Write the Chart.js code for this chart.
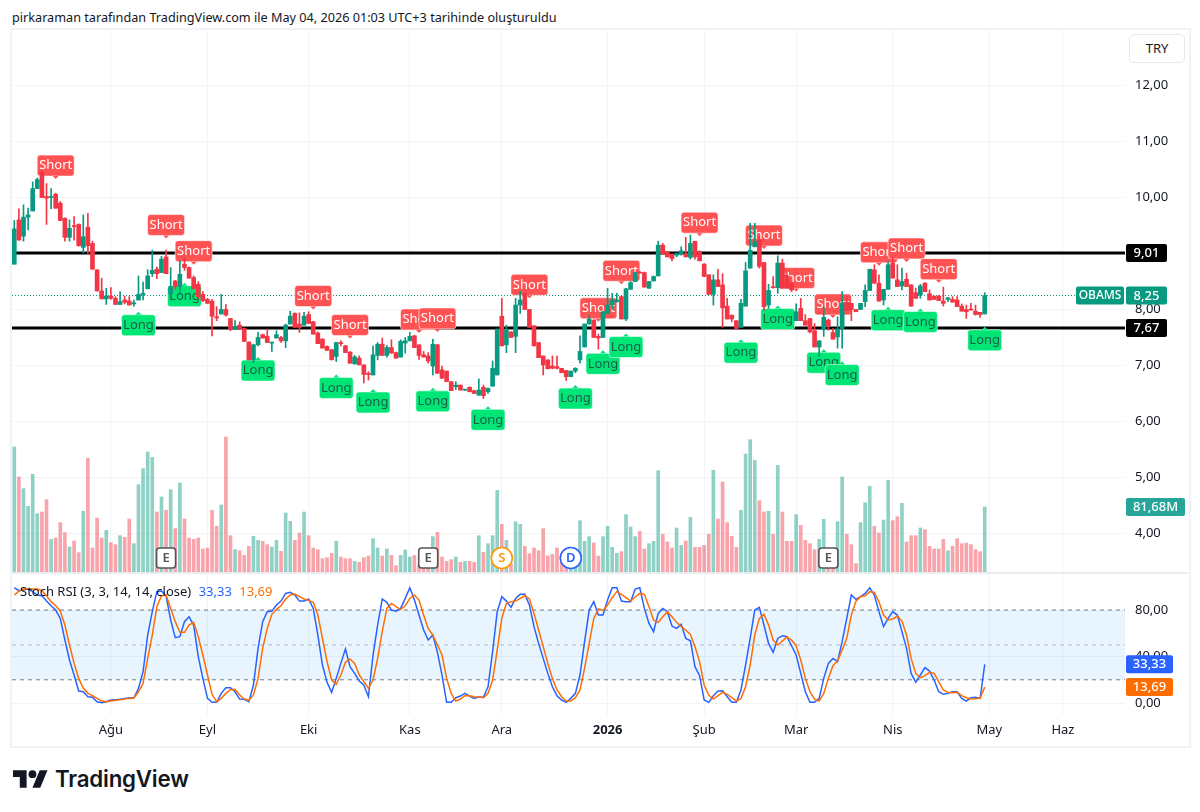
<!DOCTYPE html>
<html lang="tr">
<head>
<meta charset="utf-8">
<title>OBAMS</title>
<script src="https://cdn.jsdelivr.net/npm/chart.js@4/dist/chart.umd.min.js"></script>
<style>
  html, body { margin: 0; background: #fff; }
  body { position: relative; width: 1200px; height: 812px; overflow: hidden; font-family: "Noto Sans", sans-serif; color: #131722; }
  canvas { position: absolute; display: block; }
  #priceCanvas { left: 12px; top: 30px; }
  #stochCanvas { left: 12px; top: 574px; }
  #frame { position: absolute; left: 10px; top: 28px; width: 1177px; height: 716px; border: 2px solid #f0f2f6; }
  #divider { position: absolute; left: 12px; top: 572px; width: 1176px; height: 2px; background: #e9ebf1; }
  #caption { position: absolute; left: 12px; top: 9px; font-size: 12.66px; line-height: 17px; white-space: nowrap; }
  #currency { position: absolute; left: 1129px; top: 34px; width: 54px; height: 27px; line-height: 27px; text-align: center; font-size: 13px; border: 1px solid #e6e8ee; border-radius: 5px; background: #fff; }
  #stochLegend { position: absolute; left: 20px; top: 582px; font-size: 13px; line-height: 18px; white-space: nowrap; }
  #stochLegend b { font-weight: 400; margin-left: 4px; }
  #logo { position: absolute; left: 13px; top: 765px; display: flex; align-items: center; }
  #logo span { font: 600 22.3px Inter, sans-serif; margin-left: 7px; letter-spacing: -0.2px; }
</style>
</head>
<body>
<div id="frame"></div>
<canvas id="priceCanvas" width="1176" height="543"></canvas>
<canvas id="stochCanvas" width="1176" height="171"></canvas>
<div id="divider"></div>
<div id="caption">pirkaraman tarafından TradingView.com ile May 04, 2026 01:03 UTC+3 tarihinde oluşturuldu</div>
<div id="currency">TRY</div>
<div id="stochLegend">Stoch RSI (3, 3, 14, 14, close) <b style="color:#2962ff">33,33</b> <b style="color:#ff6d00">13,69</b></div>
<div id="logo">
  <svg width="35" height="26" viewBox="0 0 36 26"><path fill="#131722" d="M14 22H7V11H0V4h14v18zM28 22h-8l7.5-18h8L28 22z"/><circle fill="#131722" cx="20" cy="8" r="4"/></svg>
  <span>TradingView</span>
</div>

<script>
// ================== DATA ==================
const openVals = [
  8.81,9.60,9.31,9.65,9.76,10.16,10.46,10.02,10.00,10.06,
  9.90,9.63,9.29,9.49,9.52,9.11,9.47,9.18,8.71,8.33,
  8.19,8.24,8.20,8.09,8.17,8.15,8.10,8.17,8.27,8.37,
  8.64,8.72,8.66,8.94,8.28,8.51,8.41,8.81,8.75,8.57,
  8.45,8.27,8.18,8.15,7.87,7.92,8.00,7.84,7.65,7.72,
  7.66,7.42,7.10,7.37,7.55,7.52,7.40,7.49,7.50,7.44,
  7.74,7.93,7.74,7.72,7.91,7.78,7.58,7.47,7.34,7.28,
  7.16,7.40,7.35,7.24,7.03,7.13,7.01,6.86,6.83,7.18,
  7.38,7.18,7.32,7.23,7.15,7.40,7.44,7.53,7.37,7.19,
  7.17,6.99,7.37,6.92,6.90,6.71,6.62,6.65,6.56,6.61,
  6.55,6.47,6.61,6.53,6.63,6.83,7.88,7.37,7.60,7.52,
  8.08,8.29,8.00,7.71,7.41,7.17,7.10,6.99,6.98,6.95,
  6.91,6.80,6.90,7.10,7.33,7.74,7.81,7.52,7.50,7.93,
  8.08,8.14,8.23,7.83,8.36,8.50,8.66,8.66,8.38,8.51,
  8.60,9.15,9.03,8.99,8.97,9.00,9.00,8.93,9.22,9.03,
  8.81,8.62,8.27,8.53,8.44,8.06,7.90,7.80,7.68,8.06,
  8.74,9.12,9.24,8.84,8.08,8.40,8.39,8.83,8.60,8.47,
  7.80,8.02,7.80,7.84,7.62,7.33,7.64,7.81,7.59,7.51,
  7.66,8.13,8.11,8.00,8.00,8.14,8.34,8.71,8.47,8.17,
  8.36,8.83,8.53,8.42,8.54,8.44,8.30,8.26,8.47,8.28,
  8.24,8.24,8.15,8.18,8.18,8.17,8.06,8.00,8.00,7.97,
  7.95,7.92
];
const highVals = [
  9.59,9.80,9.87,9.81,10.28,10.35,10.46,10.25,10.16,10.08,
  9.93,9.64,9.60,9.66,9.53,9.69,9.72,9.22,8.71,8.56,
  8.38,8.39,8.23,8.32,8.24,8.23,8.17,8.60,8.49,8.71,
  9.06,8.76,8.95,9.06,8.75,8.52,8.87,8.94,8.76,8.60,
  8.50,8.32,8.20,8.18,8.05,8.27,8.09,7.84,7.80,7.78,
  7.67,7.42,7.38,7.59,7.56,7.65,7.42,7.62,7.52,7.74,
  7.97,7.94,7.94,7.95,7.96,7.79,7.60,7.48,7.35,7.29,
  7.41,7.44,7.36,7.25,7.18,7.17,7.01,6.89,7.35,7.41,
  7.49,7.36,7.46,7.24,7.46,7.50,7.59,7.54,7.37,7.25,
  7.23,7.47,7.38,6.99,6.90,6.71,6.71,6.65,6.57,6.62,
  6.56,6.76,6.65,6.60,7.08,7.65,8.20,7.72,7.60,8.20,
  8.33,8.30,8.00,7.71,7.41,7.17,7.10,7.17,7.17,6.95,
  6.91,6.90,6.96,7.53,7.74,7.90,7.82,7.56,7.96,8.38,
  8.29,8.29,8.24,8.38,8.50,8.66,8.68,8.67,8.50,8.60,
  9.22,9.18,9.03,8.99,9.01,9.12,9.29,9.33,9.22,9.05,
  8.82,8.62,8.62,8.72,8.64,8.20,7.90,7.80,8.18,8.84,
  9.54,9.54,9.30,8.84,8.45,8.59,8.96,8.90,8.61,8.48,
  8.10,8.20,7.91,7.84,7.75,7.44,8.05,7.83,7.66,7.87,
  8.32,8.23,8.11,8.00,8.11,8.44,8.72,8.80,8.62,8.36,
  8.85,8.94,8.80,8.74,8.65,8.44,8.38,8.45,8.48,8.35,
  8.24,8.25,8.40,8.21,8.23,8.23,8.10,8.08,8.11,8.08,
  7.95,8.30
];
const lowVals = [
  8.81,9.24,9.22,9.42,9.76,10.16,10.00,9.52,9.80,9.81,
  9.59,9.22,9.22,9.24,9.13,9.01,9.00,8.72,8.33,8.19,
  8.09,8.18,8.09,8.09,8.10,8.08,8.06,8.17,8.17,8.37,
  8.59,8.55,8.66,8.64,8.28,8.36,8.30,8.70,8.56,8.37,
  8.20,8.14,8.11,7.53,7.80,7.92,7.88,7.62,7.64,7.65,
  7.43,7.10,7.05,7.35,7.49,7.41,7.25,7.49,7.41,7.32,
  7.74,7.68,7.59,7.72,7.75,7.56,7.39,7.31,7.27,7.10,
  7.07,7.35,7.23,7.04,7.02,7.01,6.69,6.74,6.83,7.10,
  7.18,7.15,7.22,7.13,7.15,7.22,7.44,7.32,7.11,7.15,
  7.04,6.83,6.86,6.77,6.71,6.55,6.57,6.56,6.55,6.53,
  6.50,6.47,6.41,6.50,6.63,6.83,7.35,7.23,7.50,7.23,
  7.93,8.00,7.68,7.35,7.14,6.83,6.94,6.94,6.94,6.87,
  6.73,6.80,6.87,7.04,7.33,7.74,7.50,7.29,7.50,7.92,
  8.00,8.13,7.83,7.80,8.36,8.50,8.65,8.40,8.38,8.51,
  8.60,8.99,8.94,8.87,8.94,8.97,8.94,8.90,8.90,8.87,
  8.59,8.27,8.08,8.41,7.68,7.83,7.78,7.66,7.68,8.06,
  8.74,9.12,8.74,7.99,8.02,8.38,8.29,8.38,8.38,8.32,
  7.80,7.80,7.72,7.58,7.33,7.16,7.52,7.63,7.47,7.31,
  7.31,7.98,7.80,7.96,8.00,8.05,8.34,8.47,8.15,8.08,
  8.36,8.56,8.41,8.35,8.41,8.06,8.20,8.20,8.32,8.17,
  8.18,8.16,8.06,8.14,8.13,8.05,7.97,7.84,7.99,7.90,
  7.86,7.92
];
const closeVals = [
  9.44,9.24,9.65,9.69,10.16,10.32,10.00,9.99,10.02,9.81,
  9.59,9.29,9.45,9.48,9.14,9.30,9.14,8.72,8.33,8.19,
  8.24,8.20,8.09,8.14,8.13,8.08,8.12,8.27,8.29,8.60,
  8.70,8.64,8.90,8.64,8.41,8.41,8.63,8.75,8.56,8.37,
  8.23,8.16,8.11,7.88,7.85,8.00,7.90,7.65,7.69,7.65,
  7.43,7.10,7.37,7.50,7.49,7.41,7.41,7.55,7.44,7.72,
  7.88,7.68,7.68,7.88,7.75,7.56,7.39,7.31,7.27,7.10,
  7.41,7.39,7.23,7.04,7.15,7.01,6.84,6.84,7.19,7.38,
  7.18,7.32,7.22,7.13,7.43,7.44,7.52,7.32,7.18,7.15,
  7.08,7.38,6.86,6.77,6.71,6.55,6.65,6.56,6.57,6.53,
  6.50,6.56,6.46,6.59,6.95,7.65,7.35,7.63,7.50,8.08,
  8.17,8.00,7.68,7.35,7.14,7.01,6.94,6.95,6.95,6.87,
  6.80,6.90,6.95,7.25,7.74,7.83,7.50,7.49,7.96,8.08,
  8.16,8.17,7.83,8.37,8.48,8.66,8.65,8.40,8.50,8.59,
  9.15,8.99,8.94,8.91,9.00,9.05,8.94,9.18,8.94,8.87,
  8.59,8.27,8.53,8.41,8.03,7.83,7.83,7.66,8.11,8.69,
  9.06,9.21,8.77,8.05,8.34,8.39,8.83,8.38,8.38,8.35,
  7.96,7.80,7.72,7.60,7.33,7.44,7.86,7.71,7.47,7.65,
  8.11,7.98,8.00,7.96,8.11,8.34,8.72,8.47,8.15,8.36,
  8.80,8.56,8.41,8.50,8.41,8.06,8.20,8.42,8.32,8.17,
  8.18,8.16,8.11,8.21,8.13,8.05,7.97,7.96,7.99,7.91,
  7.91,8.25
];
// volume in millions
const volumeVals = [
  155.9,118.8,104.4,82.5,122.1,73.4,75.5,90.8,41.7,43.3,
  62.3,49.9,32.2,39.6,25.2,76.3,141.9,30.9,68.1,43.3,
  52.8,37.5,35.1,46.2,44.1,66.8,36.3,109.3,129.1,149.7,
  143.1,75.5,94.1,77.6,103.1,54.9,111.4,66.8,43.3,41.7,
  43.3,29.7,30.9,77.6,57.8,84.2,168.3,46.2,28.9,27.6,
  21.9,33.0,45.4,40.4,39.2,35.1,32.2,40.4,26.8,74.3,
  63.9,40.4,49.5,75.5,46.2,30.9,28.9,17.7,19.0,24.3,
  39.2,19.8,17.7,17.7,14.4,13.2,19.0,21.0,42.5,30.9,
  21.0,29.7,21.9,9.1,21.9,28.5,19.8,21.9,9.5,7.4,
  9.5,45.0,50.3,19.8,14.4,16.5,19.8,13.2,14.4,14.4,
  13.2,46.2,25.6,36.3,46.2,102.3,60.2,40.4,11.6,63.5,
  60.2,33.0,23.9,30.9,27.6,54.9,21.0,23.1,30.9,19.8,
  11.6,13.6,13.6,64.8,39.2,45.0,37.1,21.0,45.0,57.8,
  31.8,24.3,26.4,72.2,56.9,45.0,51.6,29.7,36.3,39.2,
  126.6,47.9,38.4,30.9,55.7,34.2,39.6,68.9,31.8,31.8,
  34.2,47.9,127.1,66.8,112.6,62.3,45.4,31.8,77.6,147.3,
  165.0,139.4,89.5,75.5,76.3,47.9,133.2,75.5,39.2,39.2,
  72.2,59.0,40.4,36.3,28.9,41.7,66.4,11.6,11.6,63.5,
  118.8,47.9,35.1,11.6,62.3,87.0,107.3,57.8,49.5,65.6,
  114.7,64.8,69.7,86.2,38.4,46.2,46.2,55.7,53.6,33.0,
  29.7,29.7,41.7,27.6,33.0,42.5,36.3,37.1,35.1,28.9,
  26.4,81.68
];
const stochK = [
  99.2,96.6,97.2,98.1,95.8,92.9,92.3,87.7,83.7,80.0,
  72.8,54.2,37.0,24.1,10.3,9.7,5.4,4.9,1.1,0.3,
  1.1,2.6,2.9,3.2,4.0,4.6,4.3,12.6,27.0,58.5,
  78.6,95.8,96.3,92.3,71.4,56.2,57.1,70.0,74.3,67.1,
  39.9,21.2,4.0,0.6,0.6,8.3,13.2,13.2,9.7,3.4,
  3.2,1.1,15.5,47.0,70.0,78.6,79.1,84.3,87.7,94.3,
  95.2,92.9,87.7,87.7,89.5,81.4,58.5,32.7,17.8,9.2,
  21.2,34.1,46.5,31.3,25.5,18.9,15.5,5.4,41.3,67.1,
  89.5,86.6,80.0,79.1,81.4,90.0,99.2,88.6,75.7,62.8,
  54.2,58.5,43.6,24.1,0.6,0.6,4.6,6.0,8.3,6.0,
  4.0,5.2,4.9,14.0,44.2,78.6,91.5,87.7,82.3,90.0,
  93.5,93.5,84.3,65.7,51.3,38.4,25.5,14.0,6.3,2.6,
  0.6,4.0,8.3,24.1,52.8,80.0,87.2,75.7,75.7,88.6,
  99.2,99.2,87.7,87.2,87.2,98.1,99.2,81.4,68.5,61.4,
  77.1,81.4,78.6,66.2,64.2,67.7,55.6,53.6,31.3,23.5,
  2.6,0.6,6.3,10.3,10.6,5.4,0.6,0.6,11.2,32.7,
  55.6,80.0,82.3,67.1,51.3,43.6,55.6,57.9,57.1,49.3,
  41.3,25.5,9.7,0.6,0.6,4.0,21.2,34.1,38.4,35.6,
  52.8,72.8,92.9,89.2,91.5,94.3,99.2,92.9,78.6,65.7,
  72.8,78.6,75.7,61.4,47.0,25.5,17.8,24.1,30.4,27.5,
  19.8,9.7,7.5,8.3,9.7,9.7,4.0,1.7,4.6,4.9,
  4.0,33.33
];
const stochD = [
  92.9,96.3,98.1,98.1,98.1,98.1,96.6,92.3,87.2,83.7,
  79.1,67.1,49.9,34.1,21.2,12.6,8.3,6.3,4.0,1.7,
  1.1,1.7,2.3,2.9,3.4,4.0,4.3,9.7,16.9,38.4,
  58.5,82.9,92.3,92.9,81.4,70.0,60.8,60.8,67.1,69.4,
  57.1,41.3,24.1,7.5,1.1,4.0,8.3,11.5,11.8,6.9,
  3.4,2.3,6.9,21.2,47.0,64.2,76.3,80.6,83.7,89.5,
  92.9,93.8,91.5,89.5,88.3,86.6,75.7,55.6,35.6,19.8,
  16.1,24.1,35.0,37.9,34.1,24.1,18.4,12.6,19.8,38.4,
  61.4,81.4,85.7,82.9,80.6,83.7,90.0,92.9,88.6,75.7,
  64.2,58.5,49.9,41.3,21.2,8.3,1.7,3.4,6.3,6.3,
  5.4,5.2,4.6,8.3,19.8,45.6,72.8,85.7,87.2,87.7,
  90.0,92.3,89.5,77.1,62.8,48.5,34.1,21.2,11.2,5.4,
  1.7,1.7,4.6,11.2,29.8,51.3,72.8,80.9,79.7,84.3,
  90.6,95.8,93.5,90.6,87.7,91.2,94.3,93.5,82.9,71.4,
  69.4,74.3,78.6,74.3,69.4,65.7,62.8,59.1,48.5,35.6,
  15.5,6.9,3.4,6.3,9.2,7.5,4.6,1.7,4.0,14.0,
  32.7,58.5,72.8,76.3,67.1,54.2,49.9,53.3,56.8,54.2,
  49.3,37.0,21.2,9.7,3.4,1.7,8.3,21.2,32.1,36.1,
  45.6,55.6,75.7,87.7,91.5,92.3,95.8,95.2,87.2,75.7,
  71.4,72.3,74.8,70.5,58.5,38.4,25.5,21.8,23.5,26.4,
  25.5,18.4,11.2,9.2,8.9,9.2,6.3,4.6,3.4,3.7,
  4.3,13.69
];

// horizontal levels and signal labels (bar index, price of the tip)
const levelLines = [9.01, 7.67];
const shortIdx   = [9, 33, 39, 65, 73, 88, 92, 112, 127, 132, 149, 163, 170, 178, 188, 194, 201];
const shortPrice = [10.33, 9.27, 8.80, 8.00, 7.48, 7.58, 7.60, 8.20, 7.78, 8.45, 9.31, 9.08, 8.32, 7.85, 8.78, 8.85, 8.48];
const longIdx    = [27, 37, 53, 70, 78, 91, 103, 122, 128, 133, 158, 166, 176, 180, 190, 197, 211];
const longPrice  = [7.96, 8.48, 7.15, 6.84, 6.58, 6.60, 6.27, 6.65, 7.27, 7.57, 7.47, 8.07, 7.29, 7.07, 8.05, 8.02, 7.69];

// earnings / split / dividend badges along the bottom of the price pane
const eventIdx  = [33, 90, 106, 121, 177];
const eventText = ["E", "E", "S", "D", "E"];

const monthIdx    = [21, 42, 64, 86, 106, 129, 150, 170, 191, 212, 228];
const monthLabels = ["Ağu", "Eyl", "Eki", "Kas", "Ara", "2026", "Şub", "Mar", "Nis", "May", "Haz"];
const priceTicks  = [4, 5, 6, 7, 8, 9, 10, 11, 12];
const stochTicks  = [0, 40, 80];
const stochBands  = [80, 50, 20];

// room for 242 bars, the last 30 are empty
const barLabels = Array.from({ length: 242 }, (_, i) => String(i));

// ================== HELPERS ==================
const UP = "#089981", DOWN = "#f23645";
const FONT = '"Noto Sans", sans-serif';
const fmt = (v) => v.toFixed(2).replace(".", ",");
const isUp = (i) => closeVals[i] >= openVals[i];

// the axis keeps no spare room for its end labels, the panes run edge to edge
function fitRightAxis(s) {
  s.width = 63;
  s.paddingTop = 0;
  s.paddingBottom = 0;
}
function fitTimeAxis(height) {
  return (s) => {
    s.height = height;
    s.paddingLeft = 0;
    s.paddingRight = 0;
  };
}

function mkChart(id, config) {
  config.options = Object.assign({
    responsive: false,
    animation: false,
    events: [],
    layout: { padding: 0 },
    plugins: { legend: { display: false }, tooltip: { enabled: false } }
  }, config.options || {});
  return new Chart(document.getElementById(id), config);
}

function roundBox(ctx, x, y, w, h, r, fill, stroke) {
  ctx.beginPath();
  ctx.roundRect(x, y, w, h, r);
  ctx.fillStyle = fill;
  ctx.fill();
  if (stroke) { ctx.strokeStyle = stroke; ctx.stroke(); }
}

function centerText(ctx, text, x, y, color, font) {
  ctx.font = font;
  ctx.fillStyle = color;
  ctx.textAlign = "center";
  ctx.textBaseline = "middle";
  ctx.fillText(text, x, y);
}

// value tag on the axis, boxes are pinned to the plot's right edge
function axisTag(chart, y, dx, w, bg, text, size = 13) {
  const { ctx, chartArea } = chart;
  const x = chartArea.right + dx;
  roundBox(ctx, x, y - 9, w, 18, 2, bg);
  centerText(ctx, text, x + w / 2, y + 0.5, "#fff", `500 ${size}px ${FONT}`);
}

function signalLabel(ctx, x, tipY, isShort) {
  const w = isShort ? 37 : 34, h = 21, gap = 3;
  const top = isShort ? tipY - gap - h : tipY + gap;
  const bg = isShort ? "#ff5252" : "#00e676";
  ctx.save();
  ctx.lineWidth = 1;
  roundBox(ctx, x - w / 2, top, w, h, 3, bg, "rgba(255,255,255,.55)");
  ctx.beginPath();
  ctx.moveTo(x - 3, isShort ? top + h : top);
  ctx.lineTo(x, tipY);
  ctx.lineTo(x + 3, isShort ? top + h : top);
  ctx.closePath();
  ctx.fillStyle = bg;
  ctx.fill();
  centerText(ctx, isShort ? "Short" : "Long", x, top + h / 2, isShort ? "#fff" : "#1f5c49", `13px ${FONT}`);
  ctx.restore();
}

// ================== PRICE PANE ==================
const priceOverlay = {
  id: "priceOverlay",
  // level lines and signal labels sit underneath the candles
  beforeDatasetsDraw(chart) {
    const { ctx, chartArea, scales } = chart;
    ctx.save();
    const lastY = scales.y.getPixelForValue(closeVals.at(-1));
    ctx.strokeStyle = UP;
    ctx.lineWidth = 1;
    ctx.setLineDash([1, 2]);
    ctx.beginPath();
    ctx.moveTo(chartArea.left, lastY);
    ctx.lineTo(chartArea.right, lastY);
    ctx.stroke();
    ctx.setLineDash([]);
    ctx.strokeStyle = "#000";
    ctx.lineWidth = 3;
    levelLines.forEach(v => {
      const y = scales.y.getPixelForValue(v);
      ctx.beginPath();
      ctx.moveTo(chartArea.left, y);
      ctx.lineTo(chartArea.right, y);
      ctx.stroke();
    });
    shortIdx.forEach((b, n) => signalLabel(ctx, scales.x.getPixelForValue(b), scales.y.getPixelForValue(shortPrice[n]), true));
    longIdx.forEach((b, n) => signalLabel(ctx, scales.x.getPixelForValue(b), scales.y.getPixelForValue(longPrice[n]), false));
    ctx.restore();
  },
  afterDraw(chart) {
    const { ctx, chartArea, scales } = chart;
    ctx.save();
    eventIdx.forEach((b, n) => {
      const x = scales.x.getPixelForValue(b), y = chartArea.bottom - 15;
      const t = eventText[n];
      ctx.lineWidth = 1.6;
      if (t === "E") {
        roundBox(ctx, x - 9.5, y - 10, 19, 20, 3, "#fff", "#555");
        centerText(ctx, t, x, y + 0.5, "#555", `600 13px ${FONT}`);
      } else {
        const c = t === "S" ? "#ff9800" : "#2962ff";
        ctx.beginPath();
        ctx.arc(x, y, 10.5, 0, Math.PI * 2);
        ctx.fillStyle = "#fff";
        ctx.fill();
        ctx.strokeStyle = c;
        ctx.stroke();
        centerText(ctx, t, x, y + 0.5, c, `600 13px ${FONT}`);
      }
    });
    const lastClose = closeVals.at(-1);
    levelLines.forEach(v => axisTag(chart, scales.y.getPixelForValue(v), 1, 41, "#000", fmt(v)));
    axisTag(chart, scales.y.getPixelForValue(lastClose), -49, 48, UP, "OBAMS", 12);
    axisTag(chart, scales.y.getPixelForValue(lastClose), 1, 41, UP, fmt(lastClose));
    axisTag(chart, scales.vol.getPixelForValue(volumeVals.at(-1)), 1, 59, "#26a69a", fmt(volumeVals.at(-1)) + "M");
    ctx.restore();
  }
};

mkChart("priceCanvas", {
  type: "bar",
  plugins: [priceOverlay],
  data: {
    labels: barLabels,
    datasets: [
      {
        data: openVals.map((o, i) => [o, closeVals[i]]),
        backgroundColor: openVals.map((_, i) => isUp(i) ? UP : DOWN),
        barThickness: 4, minBarLength: 1, yAxisID: "y", order: 1
      },
      {
        data: lowVals.map((l, i) => [l, highVals[i]]),
        backgroundColor: lowVals.map((_, i) => isUp(i) ? UP : DOWN),
        barThickness: 1, yAxisID: "y", order: 2
      },
      {
        data: volumeVals,
        backgroundColor: volumeVals.map((_, i) => isUp(i) ? "rgba(8,153,129,.45)" : "rgba(242,54,69,.45)"),
        barThickness: 3, yAxisID: "vol", order: 3
      }
    ]
  },
  options: {
    datasets: { bar: { grouped: false } },
    scales: {
      x: {
        offset: true,
        afterBuildTicks: (s) => { s.ticks = monthIdx.map(value => ({ value })); },
        afterFit: fitTimeAxis(0),
        grid: { color: "#f3f4f7", offset: false, drawTicks: false },
        border: { display: false },
        ticks: { display: false, autoSkip: false }
      },
      y: {
        position: "right",
        min: 3.292, max: 12.994,
        afterBuildTicks: (s) => { s.ticks = priceTicks.map(value => ({ value })); },
        afterFit: fitRightAxis,
        grid: { color: "#f3f4f7", drawTicks: false },
        border: { display: false },
        ticks: { padding: 10, color: "#131722", font: { family: FONT, size: 13 }, callback: (v) => fmt(v) }
      },
      vol: { display: false, position: "right", min: 0, max: 672 }
    }
  }
});

// ================== STOCH RSI PANE ==================
const stochOverlay = {
  id: "stochOverlay",
  beforeDatasetsDraw(chart) {
    const { ctx, chartArea, scales } = chart;
    const y = scales.y;
    ctx.save();
    ctx.fillStyle = "rgba(33,150,243,.1)";
    ctx.fillRect(chartArea.left, y.getPixelForValue(stochBands[0]), chartArea.width, y.getPixelForValue(stochBands[2]) - y.getPixelForValue(stochBands[0]));
    ctx.lineWidth = 1;
    ctx.setLineDash([4, 4]);
    stochBands.forEach(v => {
      ctx.strokeStyle = v === 50 ? "rgba(120,123,134,.5)" : "#787b86";
      ctx.beginPath();
      ctx.moveTo(chartArea.left, y.getPixelForValue(v));
      ctx.lineTo(chartArea.right, y.getPixelForValue(v));
      ctx.stroke();
    });
    ctx.restore();
  },
  afterDraw(chart) {
    const y = chart.scales.y;
    axisTag(chart, y.getPixelForValue(stochK.at(-1)), 1, 47, "#2962ff", fmt(stochK.at(-1)));
    axisTag(chart, y.getPixelForValue(stochD.at(-1)), 1, 47, "#ff6d00", fmt(stochD.at(-1)));
  }
};

mkChart("stochCanvas", {
  type: "line",
  plugins: [stochOverlay],
  data: {
    labels: barLabels,
    datasets: [
      { data: stochK, borderColor: "#2962ff", borderWidth: 1.5, pointRadius: 0, tension: 0, order: 2 },
      { data: stochD, borderColor: "#ff6d00", borderWidth: 1.5, pointRadius: 0, tension: 0, order: 1 }
    ]
  },
  options: {
    scales: {
      x: {
        offset: true,
        afterBuildTicks: (s) => { s.ticks = monthIdx.map(value => ({ value })); },
        afterFit: fitTimeAxis(30),
        grid: { color: "#f3f4f7", offset: false, drawTicks: false },
        border: { display: false },
        ticks: {
          autoSkip: false, maxRotation: 0, padding: 7, color: "#131722",
          font: (c) => ({ family: FONT, size: 13, weight: monthLabels[c.index] === "2026" ? "700" : "400" }),
          callback: (v, i) => monthLabels[i]
        }
      },
      y: {
        position: "right",
        min: -10.3, max: 111,
        afterBuildTicks: (s) => { s.ticks = stochTicks.map(value => ({ value })); },
        afterFit: fitRightAxis,
        grid: { color: "#f3f4f7", drawTicks: false },
        border: { display: false },
        ticks: { padding: 10, color: "#131722", font: { family: FONT, size: 13 }, callback: (v) => fmt(v) }
      }
    }
  }
});
</script>
</body>
</html>
